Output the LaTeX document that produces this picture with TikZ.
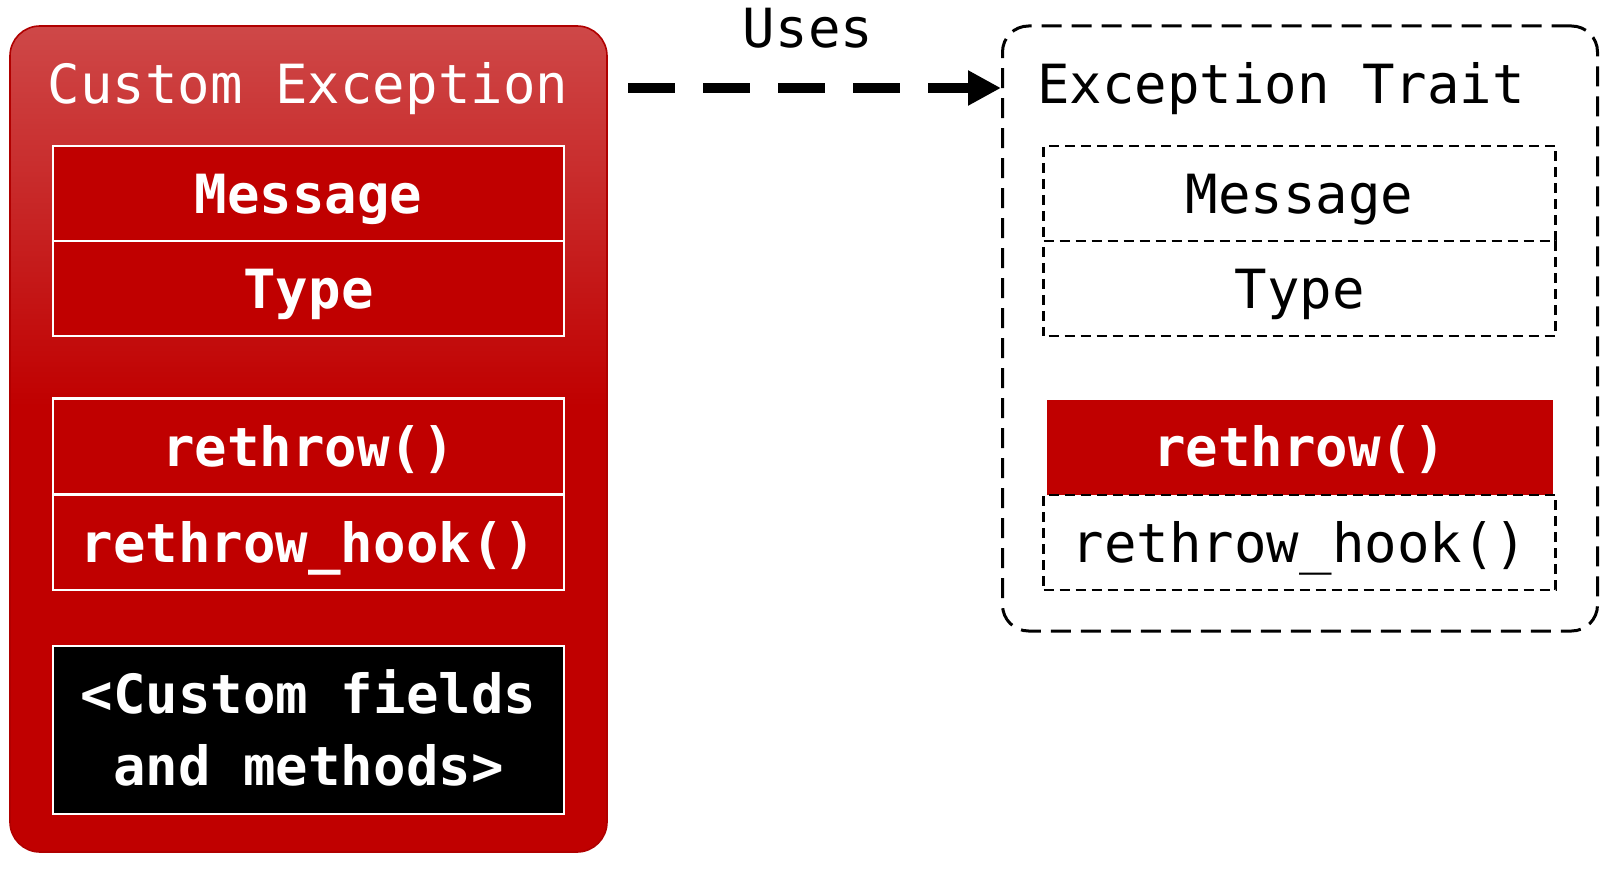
\documentclass[tikz,border=0pt]{standalone}
\usepackage{fontspec}
\setmonofont{DejaVu Sans Mono}
\usetikzlibrary{arrows.meta}
\definecolor{cred}{HTML}{C00000}
\definecolor{ctop}{HTML}{CE4848}
\definecolor{cedge}{HTML}{B00000}
\pgfdeclareverticalshading{lboxshade}{100bp}{color(0bp)=(cred); color(52bp)=(cred); color(75bp)=(ctop); color(100bp)=(ctop)}
\tikzset{
  txt/.style={font=\ttfamily\fontsize{27}{36}\selectfont, inner sep=0pt, text height=19.7pt, text depth=0pt},
  redcell/.style={txt, draw=white, line width=1.4pt, fill=cred, text=white, font=\ttfamily\bfseries\fontsize{27}{36}\selectfont, minimum width=255.5pt, minimum height=47.5pt},
  dashcell/.style={txt, draw=black, line width=1.2pt, dash pattern=on 5pt off 3pt, minimum width=256pt, minimum height=47.5pt},
  outerred/.style={rounded corners=15pt, draw=cedge, line width=0.8pt, shade, shading=lboxshade, minimum width=298.5pt, minimum height=413pt, inner sep=0pt},
  outerdash/.style={rounded corners=13pt, draw=black, line width=1.5pt, dash pattern=on 10pt off 5pt, minimum width=297.5pt, minimum height=302.5pt, inner sep=0pt},
  usesarrow/.style={line width=5.2pt, dash pattern=on 23.5pt off 14pt, -{Triangle[length=16.5pt,width=16.5pt]}}
}
\begin{document}
\begin{tikzpicture}[x=0.5pt,y=-0.5pt]
\useasboundingbox (0,0) rectangle (1609,871);
% left
\node[outerred] (lbox) at (308.5,439) {};
\node[txt, text=white] (ltitle) at (308,84) {Custom Exception};
\node[redcell] (lmsg) at (308.5,193.5) {Message};
\node[redcell] (ltype) at (308.5,288.5) {Type};
\node[redcell, minimum height=48pt] (lre) at (308.5,446.5) {rethrow()};
\node[redcell] (lhook) at (308.5,542.5) {rethrow\_hook()};
\node[redcell, fill=black, minimum height=84pt, align=center, text height=55.7pt, text depth=0pt] (lcustom) at (308.5,730) {<Custom fields\\and methods>};
% right
\node[outerdash] (rbox) at (1300,328.5) {};
\node[txt] (rtitle) at (1281,84) {Exception Trait};
\node[dashcell] (rmsg) at (1299.5,193.5) {Message};
\node[dashcell, dash phase=5.5pt] (rtype) at (1299.5,288.5) {Type};
\node[txt, fill=cred, text=white, font=\ttfamily\bfseries\fontsize{27}{36}\selectfont, minimum width=253pt, minimum height=47.5pt] (rre) at (1299.5,447) {rethrow()};
\node[dashcell] (rhook) at (1299.5,542.5) {rethrow\_hook()};
% connector
\node[txt] (uses) at (808,28) {Uses};
\coordinate (a0) at (628,88);
\draw[usesarrow] (a0) -- (rbox.west |- a0);
\end{tikzpicture}
\end{document}
